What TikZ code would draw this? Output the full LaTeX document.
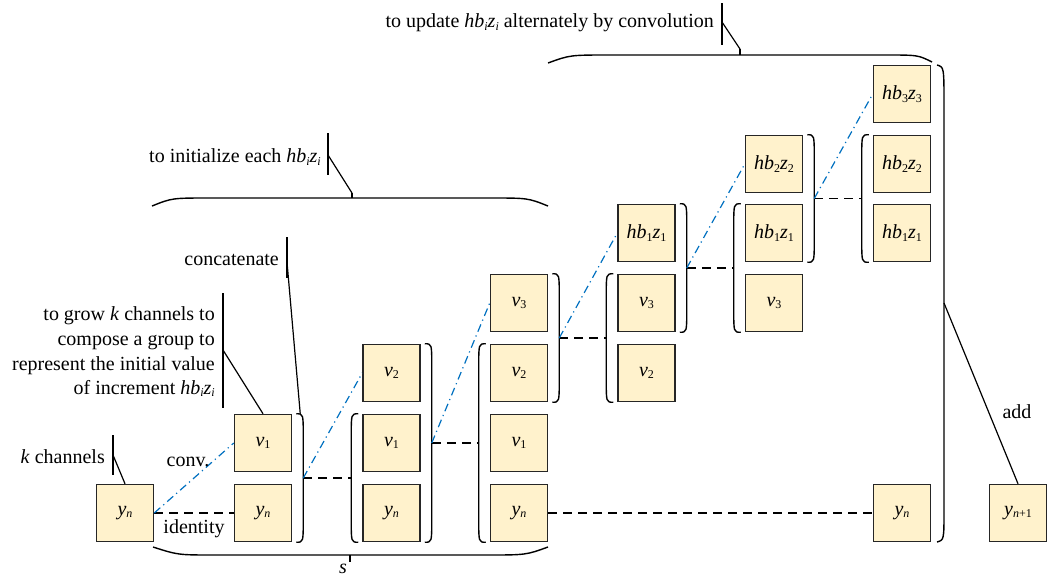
\documentclass[tikz,border=0pt]{standalone}
\usepackage{fontspec}
\setmainfont{Liberation Serif}
\newfontfamily\tms{Liberation Serif}
\usetikzlibrary{calc}
\definecolor{boxfill}{RGB}{255,242,204}
\definecolor{boxline}{RGB}{38,38,38}
\definecolor{convblue}{RGB}{0,112,192}
\newcommand\sbs[1]{\raisebox{-0.25ex}{\fontsize{12}{12}\selectfont #1}}
\newcommand\Yn{\textit{y}\sbs{\textit{n}}}
\newcommand\Vv[1]{\textit{v}\sbs{#1}}
\newcommand\Hbz[1]{\textit{hb}\sbs{#1}\textit{z}\sbs{#1}}
\newcommand\RParen[3]{%
  \draw[paren] ([xshift=4pt]#1.north east) .. controls ([xshift=11pt]#1.north east) .. ([xshift=11pt,yshift=-22pt]#1.north east) -- ([xshift=11pt,yshift=22pt]#2.south east) .. controls ([xshift=11pt]#2.south east) .. ([xshift=4pt]#2.south east);
  \coordinate (#3) at ($([xshift=11pt]#1.north east)!0.5!([xshift=11pt]#2.south east)$);}
\newcommand\LParen[3]{%
  \draw[paren] ([xshift=-4pt]#1.north west) .. controls ([xshift=-11pt]#1.north west) .. ([xshift=-11pt,yshift=-22pt]#1.north west) -- ([xshift=-11pt,yshift=22pt]#2.south west) .. controls ([xshift=-11pt]#2.south west) .. ([xshift=-4pt]#2.south west);
  \coordinate (#3) at ($([xshift=-11pt]#1.north west)!0.5!([xshift=-11pt]#2.south west)$);}
\begin{document}
\begin{tikzpicture}[x=1pt,y=-1pt,
  box/.style={draw=boxline,line width=1.5pt,fill=boxfill,minimum size=57pt,inner sep=0pt,font=\tms\fontsize{20}{20}\selectfont},
  paren/.style={line width=1.4pt,black},
  callout/.style={line width=1.2pt,black},
  ident/.style={line width=1.4pt,dash pattern=on 9pt off 6pt,black},
  convline/.style={line width=1.2pt,convblue,dash pattern=on 8pt off 4pt on 1.2pt off 4pt},
  lbl/.style={font=\tms\fontsize{20}{24}\selectfont,inner sep=0pt}]
\useasboundingbox (0,0) rectangle (1047,579);
% boxes
\node[box] (n00) at (125,513) {\Yn};
\node[box] (n10) at (263,513) {\Yn};
\node[box] (n11) at (263,443) {\Vv{1}};
\node[box] (n20) at (391.5,513) {\Yn};
\node[box] (n21) at (391.5,443) {\Vv{1}};
\node[box] (n22) at (391.5,373) {\Vv{2}};
\node[box] (n30) at (519,513) {\Yn};
\node[box] (n31) at (519,443) {\Vv{1}};
\node[box] (n32) at (519,373) {\Vv{2}};
\node[box] (n33) at (519,303) {\Vv{3}};
\node[box] (n42) at (646.5,373) {\Vv{2}};
\node[box] (n43) at (646.5,303) {\Vv{3}};
\node[box] (n44) at (646.5,233) {\Hbz{1}};
\node[box] (n53) at (774,303) {\Vv{3}};
\node[box] (n54) at (774,233) {\Hbz{1}};
\node[box] (n55) at (774,164) {\Hbz{2}};
\node[box] (n64) at (902,233) {\Hbz{1}};
\node[box] (n65) at (902,164) {\Hbz{2}};
\node[box] (n66) at (902,94) {\Hbz{3}};
\node[box] (n60) at (902,513) {\Yn};
\node[box] (n70) at (1018,513) {\textit{y}\sbs{\textit{n}+1}};
% parentheses
\RParen{n11}{n10}{J1}
\LParen{n21}{n20}{L2}
\RParen{n22}{n20}{J2}
\LParen{n32}{n30}{L3}
\RParen{n33}{n32}{J3}
\LParen{n43}{n42}{L4}
\RParen{n44}{n43}{J4}
\LParen{n54}{n53}{L5}
\RParen{n55}{n54}{J5}
\LParen{n65}{n64}{L6}
% identity (dashed) lines
\draw[ident] (n00.east) -- (n10.west);
\draw[ident] (J1) -- (L2);
\draw[ident] (J2) -- (L3);
\draw[ident] (J3) -- (L4);
\draw[ident] (J4) -- (L5);
\draw[ident] (J5) -- (L6);
\draw[ident] (n30.east) -- (n60.west);
% conv (blue dash-dot) lines
\draw[convline] (n00.east) -- (n11.west);
\draw[convline] (J1) -- (n22.west);
\draw[convline] (J2) -- (n33.west);
\draw[convline] (J3) -- (n44.west);
\draw[convline] (J4) -- (n55.west);
\draw[convline] (J5) -- (n66.west);
% edge labels
\node[lbl] (conv) at (188,462) {conv.};
\node[lbl] (ident) at (194,529) {identity};
% bottom brace s
\draw[paren] (153,547) .. controls (178,555) .. (215,555) -- (486,555) .. controls (526,555) .. (548,547);
\coordinate (sT) at (350,555);
\coordinate (sB) at (350,562);
\draw[paren] (sT) -- (sB);
\node[lbl,anchor=north] (s) at (343,564) {\textit{s}};
% initialize brace
\draw[paren] (152,206) .. controls (172,198) .. (210,198) -- (490,198) .. controls (528,198) .. (548,206);
\coordinate (iB) at (352,198);
\coordinate (iT) at (352,193);
\draw[paren] (iB) -- (iT);
\coordinate (iV1) at (328,133);
\coordinate (iV2) at (328,175);
\coordinate (iM) at (328,155);
\draw[callout] (iV1) -- (iV2);
\draw[callout] (iM) -- (iT);
\node[lbl,anchor=east] (tinit) at (321,157) {to initialize each \Hbz{\textit{i}}};
% update brace
\draw[paren] (548,63) .. controls (570,55) .. (610,55) -- (885,55) .. controls (918,55) .. (932,62);
\coordinate (uB) at (740,55);
\coordinate (uT) at (740,49);
\draw[paren] (uB) -- (uT);
\coordinate (uV1) at (722,3);
\coordinate (uV2) at (722,45);
\coordinate (uM) at (722,22);
\draw[callout] (uV1) -- (uV2);
\draw[callout] (uM) -- (uT);
\node[lbl,anchor=east] (tupd) at (714,23) {to update \Hbz{\textit{i}} alternately by convolution};
% big right bracket (add)
\draw[paren] (937,65) .. controls (944,67) .. (944,105) -- (944,510) .. controls (944,540) .. (937,542);
\coordinate (aS) at (944,303);
\draw[callout] (aS) -- (n70.north);
\node[lbl] (tadd) at (1017,412) {add};
% k channels callout
\coordinate (kV1) at (113,435);
\coordinate (kV2) at (113,475);
\coordinate (kM) at (113,455);
\draw[callout] (kV1) -- (kV2);
\draw[callout] (kM) -- (n00.north);
\node[lbl,anchor=east] (tk) at (105,457) {\textit{k} channels};
% grow callout
\coordinate (gV1) at (223,293);
\coordinate (gV2) at (223,408);
\coordinate (gM) at (223,350);
\draw[callout] (gV1) -- (gV2);
\draw[callout] (gM) -- (n11.north);
\node[lbl,anchor=east,align=right,font=\tms\fontsize{20}{24.6}\selectfont] (tgrow) at (215,352) {to grow \textit{k} channels to\\compose a group to\\represent the initial value\\of increment \Hbz{\textit{i}}};
% concatenate callout
\coordinate (cV1) at (287,237);
\coordinate (cV2) at (287,278);
\coordinate (cM) at (287,262);
\coordinate (cP) at ([xshift=8pt]n11.north east);
\draw[callout] (cV1) -- (cV2);
\draw[callout] (cM) -- (cP);
\node[lbl,anchor=east] (tcat) at (279,260) {concatenate};
\end{tikzpicture}
\end{document}
